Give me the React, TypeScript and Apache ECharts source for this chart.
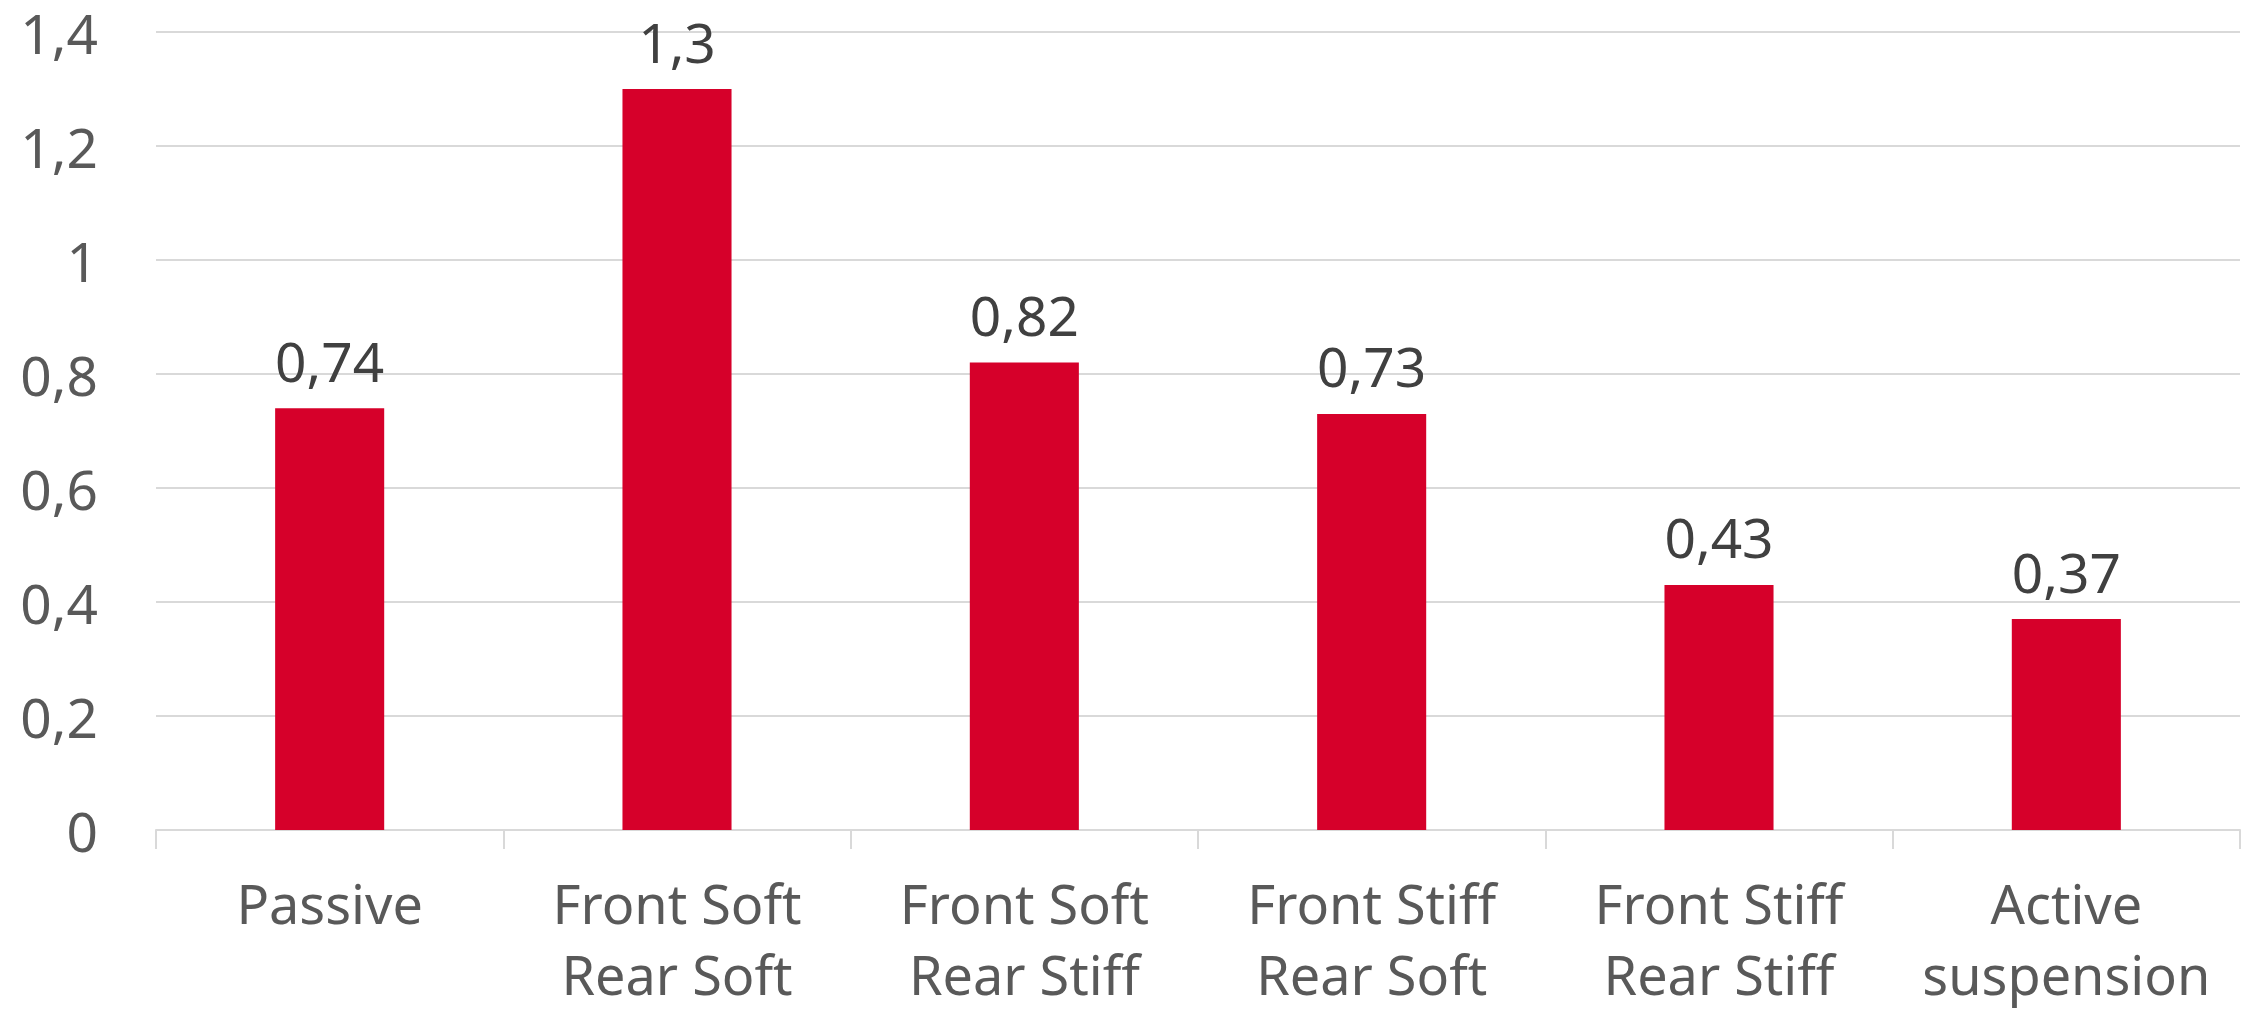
import React, { useEffect, useRef } from "react";
import * as echarts from "echarts";

const categories = [
  "Passive",
  "Front Soft\nRear Soft",
  "Front Soft\nRear Stiff",
  "Front Stiff\nRear Soft",
  "Front Stiff\nRear Stiff",
  "Active\nsuspension",
];
const values = [0.74, 1.3, 0.82, 0.73, 0.43, 0.37];
const yMin = 0;
const yMax = 1.4;
const yInterval = 0.2;

const fmt = (v: number) => String(Math.round(v * 100) / 100).replace(".", ",");

export default function App() {
  const ref = useRef<HTMLDivElement>(null);
  useEffect(() => {
    document.body.style.margin = "0";
    document.body.style.overflow = "hidden";
    document.documentElement.style.overflow = "hidden";
    const chart = echarts.init(ref.current!, null, { renderer: "svg" });
    const font = "'Noto Sans', Roboto, sans-serif";
    chart.setOption({
      animation: false,
      backgroundColor: "#ffffff",
      grid: {
        left: 156,
        right: 12,
        top: 32,
        bottom: 180,
        containLabel: false,
        outerBoundsMode: "none",
      },
      xAxis: {
        type: "category",
        data: categories,
        axisLine: { lineStyle: { color: "#d9d9d9", width: 2 } },
        axisTick: { show: true, length: 19, lineStyle: { color: "#d9d9d9", width: 2 } },
        axisLabel: {
          color: "#595959",
          fontSize: 54,
          fontFamily: font,
          lineHeight: 71,
          margin: 37,
          interval: 0,
        },
      },
      yAxis: {
        type: "value",
        min: yMin,
        max: yMax,
        interval: yInterval,
        axisLine: { show: false },
        axisTick: { show: false },
        splitLine: { lineStyle: { color: "#d9d9d9", width: 2 } },
        axisLabel: {
          color: "#595959",
          fontSize: 55,
          fontFamily: font,
          lineHeight: 50,
          margin: 58,
          formatter: (v: number) => fmt(v),
        },
      },
      series: [
        {
          type: "bar",
          data: values,
          barWidth: "31.4%",
          itemStyle: { color: "#d6002a" },
          label: {
            show: true,
            position: "top",
            distance: 18,
            color: "#404040",
            fontSize: 55,
            fontFamily: font,
            lineHeight: 60,
            formatter: (p: any) => fmt(p.value),
          },
        },
      ],
    });
    return () => chart.dispose();
  }, []);
  return (
    <div style={{ width: 2252, height: 1010, overflow: "hidden" }}>
      <div ref={ref} style={{ width: 2252, height: 1010 }} />
    </div>
  );
}
